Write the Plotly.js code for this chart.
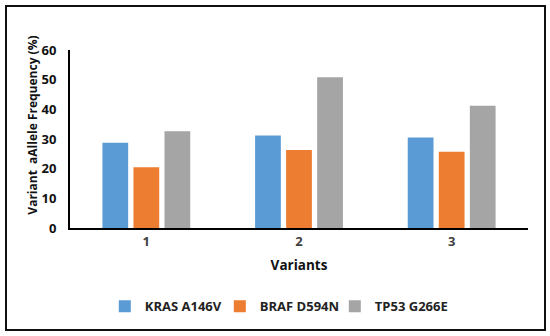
<!DOCTYPE html>
<html>
<head>
<meta charset="utf-8">
<script src="https://cdn.plot.ly/plotly-3.0.1.min.js"></script>
<style>
html,body{margin:0;padding:0;background:#fff;}
#wrap{position:relative;width:550px;height:336px;}
#chart{position:absolute;left:0;top:0;width:550px;height:336px;}
#frame{position:absolute;left:5px;top:5px;width:537px;height:322px;border:2px solid #111;pointer-events:none;}
</style>
</head>
<body>
<div id="wrap"><div id="chart"></div><div id="frame"></div></div>
<script>
const categories = ["1", "2", "3"];
const kras = [28.7, 31.2, 30.5];
const braf = [20.5, 26.3, 25.7];
const tp53 = [32.6, 50.8, 41.2];
const seriesNames = ["KRAS A146V", "BRAF D594N", "TP53 G266E"];
const colors = ["#5b9bd5", "#ed7d31", "#a5a5a5"];
const yTicks = [0, 10, 20, 30, 40, 50, 60];
const yTitle = "Variant\u00A0\u00A0aAllele Frequency (%)";

const font = "Open Sans, Liberation Sans, sans-serif";
const traces = [kras, braf, tp53].map((vals, i) => ({
  type: "bar",
  x: categories,
  y: vals,
  name: seriesNames[i],
  marker: {color: colors[i]},
  hoverinfo: "none"
}));

const layout = {
  width: 550, height: 336,
  margin: {l: 70, r: 22, t: 50, b: 108},
  paper_bgcolor: "#fff",
  plot_bgcolor: "#fff",
  barmode: "group",
  bargap: 0.39,
  bargroupgap: 0.17,
  showlegend: true,
  legend: {
    orientation: "h", x: 0.076, xanchor: "left", y: -0.44, yanchor: "middle",
    font: {family: font, size: 13, color: "#222", weight: "bold"},
    itemwidth: 30, entrywidth: 70, entrywidthmode: "pixels", traceorder: "normal"
  },
  xaxis: {
    type: "category",
    showline: true, linecolor: "#000", linewidth: 2,
    showgrid: false, zeroline: false,
    ticks: "",
    tickfont: {family: font, size: 13, color: "#404040", weight: "bold"},
    title: {text: "Variants", font: {family: font, size: 13.5, color: "#111", weight: "bold"}, standoff: 12}
  },
  yaxis: {
    range: [0, 60],
    tickvals: yTicks,
    ticktext: yTicks.map(String),
    showline: true, linecolor: "#000", linewidth: 2,
    showgrid: false, zeroline: false,
    ticks: "",
    ticklabelstandoff: 9,
    tickfont: {family: font, size: 13, color: "#111", weight: "bold"}
  },
  annotations: [{
    text: yTitle, textangle: -90, showarrow: false,
    xref: "paper", yref: "paper", x: -0.081, y: 0.58,
    xanchor: "center", yanchor: "middle",
    font: {family: font, size: 12, color: "#111", weight: "bold"}
  }]
};

Plotly.newPlot("chart", traces, layout, {displayModeBar: false, staticPlot: true});
</script>
</body>
</html>
